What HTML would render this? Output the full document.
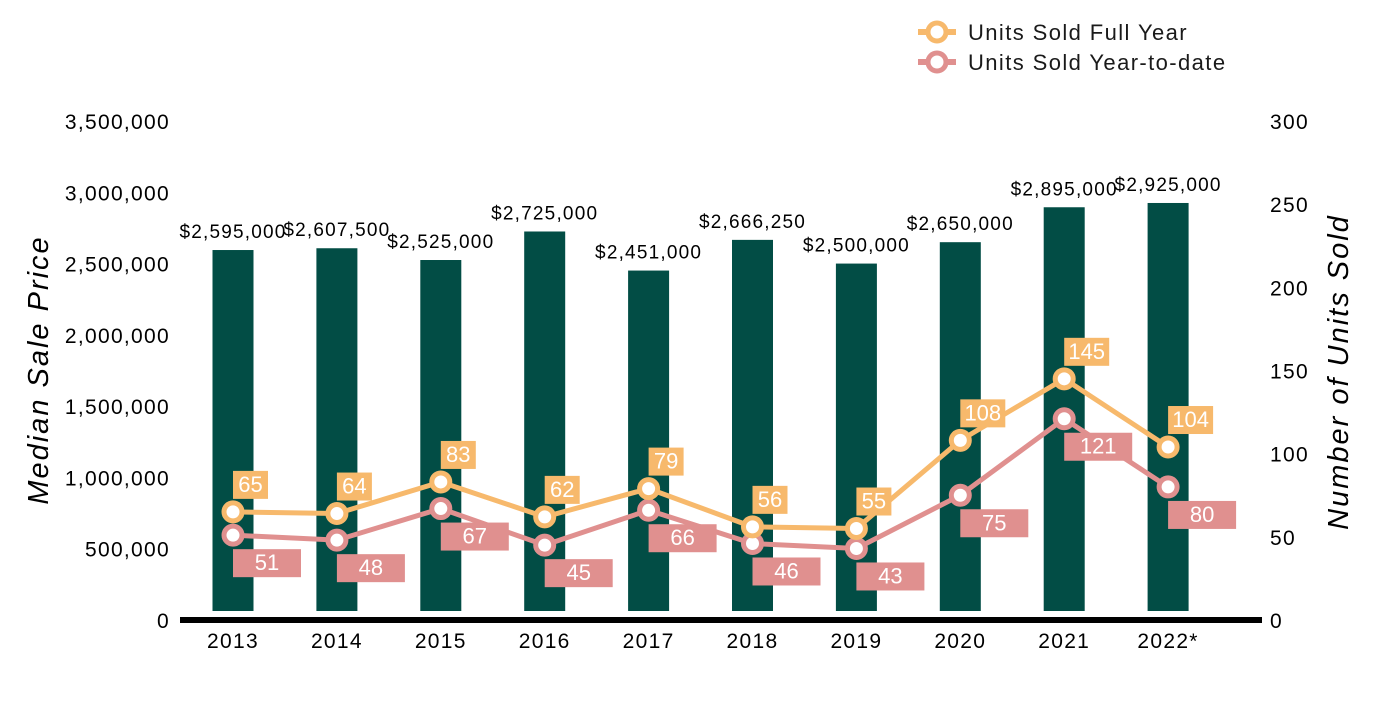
<!DOCTYPE html>
<html><head><meta charset="utf-8"><style>
body{margin:0;background:#fff;font-family:"Liberation Sans",Arial,sans-serif}
svg text{font-family:"Liberation Sans",Arial,sans-serif}
</style></head><body>
<svg id="c" width="1400" height="700" xmlns="http://www.w3.org/2000/svg">
<g>
 <g>
  <line x1="918" y1="32" x2="956" y2="32" stroke="#F7B96C" stroke-width="6"/>
  <circle cx="937" cy="32" r="9" fill="#fff" stroke="#F7B96C" stroke-width="5"/>
  <text x="968" y="40" font-size="22" letter-spacing="1.4" fill="#1a1a1a">Units Sold Full Year</text>
 </g>
 <g>
  <line x1="918" y1="62" x2="956" y2="62" stroke="#E0908F" stroke-width="6"/>
  <circle cx="937" cy="62" r="9" fill="#fff" stroke="#E0908F" stroke-width="5"/>
  <text x="968" y="70" font-size="22" letter-spacing="1.4" fill="#1a1a1a">Units Sold Year-to-date</text>
 </g>
</g>
<text transform="translate(48,370) rotate(-90)" text-anchor="middle" font-size="29" letter-spacing="2" font-style="italic" fill="#000">Median Sale Price</text>
<text transform="translate(1348,372) rotate(-90)" text-anchor="middle" font-size="29" letter-spacing="2" font-style="italic" fill="#000">Number of Units Sold</text>
<g id="g"></g>
</svg>
<script>
const years=["2013","2014","2015","2016","2017","2018","2019","2020","2021","2022*"];
const prices=[2595000,2607500,2525000,2725000,2451000,2666250,2500000,2650000,2895000,2925000];
const priceLabels=["$2,595,000","$2,607,500","$2,525,000","$2,725,000","$2,451,000","$2,666,250","$2,500,000","$2,650,000","$2,895,000","$2,925,000"];
const fullYear=[65,64,83,62,79,56,55,108,145,104];
const ytd=[51,48,67,45,66,46,43,75,121,80];
const leftTicks=[0,500000,1000000,1500000,2000000,2500000,3000000,3500000];
const rightTicks=[0,50,100,150,200,250,300];
const NS="http://www.w3.org/2000/svg";
const g=document.getElementById('g');
const y0=620,yTop=121;
const yL=v=>y0-v/3500000*(y0-yTop);
const yR=v=>y0-v/300*(y0-yTop);
const xC=i=>233+i*103.9;
function el(t,a,txt){const e=document.createElementNS(NS,t);for(const k in a)e.setAttribute(k,a[k]);if(txt!=null)e.textContent=txt;g.appendChild(e);return e;}
leftTicks.forEach(v=>{const t=el('text',{x:170,y:yL(v)+8,'text-anchor':'end','font-size':21,'letter-spacing':1.3,fill:'#000'},v.toLocaleString('en-US'));

});
rightTicks.forEach(v=>{const t=el('text',{x:1270,y:yR(v)+8,'font-size':21,'letter-spacing':1.3,fill:'#000'},String(v));

});
prices.forEach((p,i)=>{const b=el('rect',{x:xC(i)-20.5,y:yL(p),width:41,height:611-yL(p),fill:'#024D45'});


const t=el('text',{x:xC(i),y:yL(p)-12,'text-anchor':'middle','font-size':19,'letter-spacing':1.2,fill:'#000'},priceLabels[i]);


const xl=el('text',{x:xC(i),y:648,'text-anchor':'middle','font-size':21,'letter-spacing':1.3,fill:'#000'},years[i]);

});
const ax=el('line',{x1:180,y1:620,x2:1262,y2:620,stroke:'#000','stroke-width':6});


function series(vals,col,name,above){
 const l=el('polyline',{points:vals.map((v,i)=>xC(i)+','+yR(v)).join(' '),fill:'none',stroke:col,'stroke-width':5});
 
 
 vals.forEach((v,i)=>{const c=el('circle',{cx:xC(i),cy:yR(v),r:9,fill:'#fff',stroke:col,'stroke-width':5});
 
 
 const s=String(v);const w=above?(s.length>2?45:35):68;const h=28;
 const bx=xC(i),by=above?yR(v)-41:yR(v)+14;
 const r=el('rect',{x:bx,y:by,width:w,height:h,fill:col});
 
 
 const t=el('text',{x:bx+w/2,y:by+21,'text-anchor':'middle','font-size':22,fill:'#fff'},s);
 
 });
}
series(ytd,'#E0908F','ytd',false);
series(fullYear,'#F7B96C','full-year',true);
</script>
</body></html>
